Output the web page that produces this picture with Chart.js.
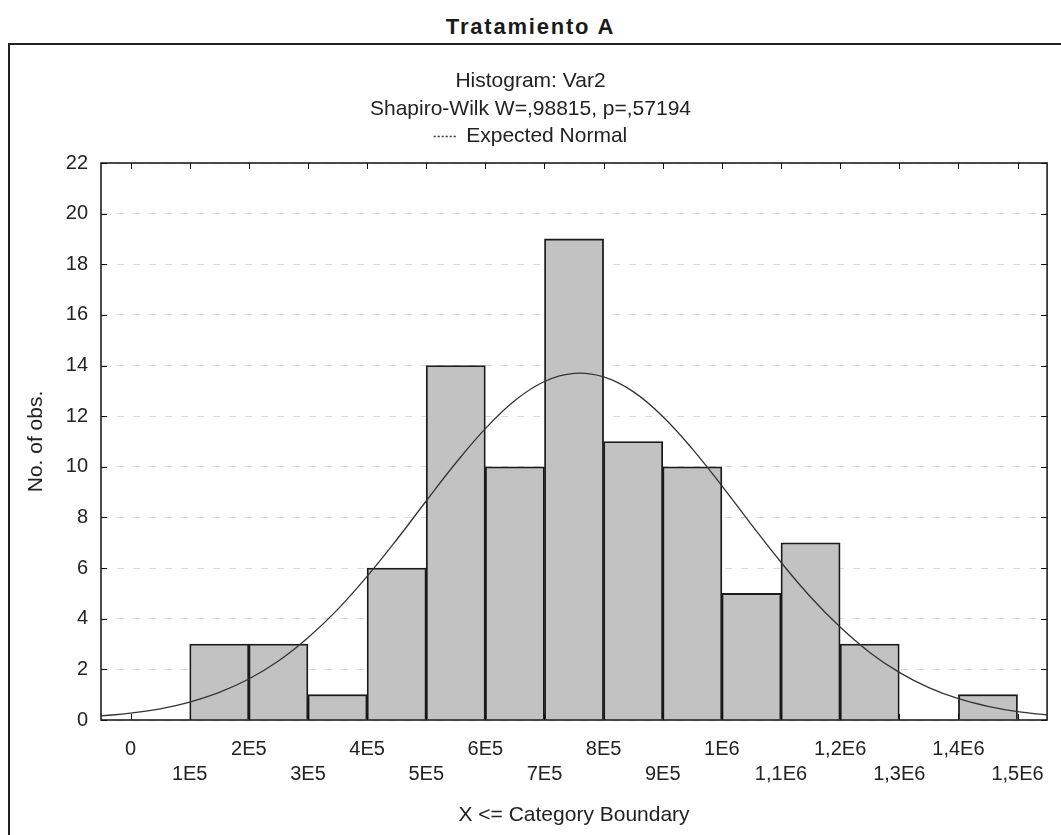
<!DOCTYPE html>
<html>
<head>
<meta charset="utf-8">
<script src="https://cdn.jsdelivr.net/npm/chart.js@4.4.1/dist/chart.umd.min.js"></script>
<style>
    body { margin: 0; background: #fff; }
    .wrap { position: relative; width: 1061px; height: 835px; overflow: hidden; }
    .heading {
        position: absolute; left: 0; width: 1061px; top: 14px; line-height: 24px;
        text-align: center; font: bold 22px "Liberation Sans", Arial, sans-serif;
        letter-spacing: 1.8px; color: #1a1a1a;
    }
    .frame {
        position: absolute; left: 8px; top: 43px; width: 1100px; height: 900px;
        border-left: 2px solid #222; border-top: 2px solid #222;
    }
    canvas { position: absolute; left: 0; top: 0; }
</style>
</head>
<body>
<div class="wrap">
    <div class="heading">Tratamiento A</div>
    <div class="frame"></div>
    <canvas id="myChart" width="1061" height="835"></canvas>
</div>
<script>
// data
const binUpper = [200000, 300000, 400000, 500000, 600000, 700000, 800000,
                  900000, 1000000, 1100000, 1200000, 1300000, 1400000, 1500000];
const counts = [3, 3, 1, 6, 14, 10, 19, 11, 10, 5, 7, 3, 0, 1];
const BIN_WIDTH = 100000;

// expected normal curve
const curveX = [-50000, 0, 50000, 100000, 150000, 200000, 250000, 300000, 350000, 400000,
                450000, 500000, 550000, 600000, 650000, 700000, 750000, 800000, 850000,
                900000, 950000, 1000000, 1050000, 1100000, 1150000, 1200000, 1250000,
                1300000, 1350000, 1400000, 1450000, 1500000, 1550000];
const curveY = [0.16, 0.27, 0.44, 0.71, 1.09, 1.62, 2.33, 3.25, 4.36, 5.67,
                7.12, 8.65, 10.15, 11.51, 12.62, 13.37, 13.69, 13.55, 12.97,
                11.99, 10.71, 9.25, 7.72, 6.23, 4.86, 3.67, 2.67,
                1.88, 1.28, 0.84, 0.54, 0.33, 0.20];

const xTickValues = [0, 100000, 200000, 300000, 400000, 500000, 600000, 700000,
                     800000, 900000, 1000000, 1100000, 1200000, 1300000, 1400000, 1500000];
const xTickLabels = ['0', '1E5', '2E5', '3E5', '4E5', '5E5', '6E5', '7E5',
                     '8E5', '9E5', '1E6', '1,1E6', '1,2E6', '1,3E6', '1,4E6', '1,5E6'];

const FONT = 'Liberation Sans, Arial, sans-serif';
const TEXT = '#222';

// frame around plot area + inward tick marks on all four sides
const plotFrame = {
    id: 'plotFrame',
    afterDraw(chart) {
        const { ctx, chartArea: a, scales } = chart;
        ctx.save();
        ctx.strokeStyle = '#111';
        ctx.lineWidth = 1.5;
        ctx.strokeRect(a.left, a.top, a.right - a.left, a.bottom - a.top);
        ctx.lineWidth = 1;
        ctx.beginPath();
        xTickValues.forEach(v => {
            const px = Math.round(scales.x.getPixelForValue(v)) + 0.5;
            ctx.moveTo(px, a.bottom); ctx.lineTo(px, a.bottom - 6);
            ctx.moveTo(px, a.top); ctx.lineTo(px, a.top + 6);
        });
        scales.y.ticks.forEach(t => {
            const py = Math.round(scales.y.getPixelForValue(t.value)) + 0.5;
            ctx.moveTo(a.left, py); ctx.lineTo(a.left + 6, py);
            ctx.moveTo(a.right, py); ctx.lineTo(a.right - 6, py);
        });
        ctx.stroke();
        ctx.restore();
    }
};

const ctx = document.getElementById('myChart');

let myChart = new Chart(ctx, {
    type: 'bar',
    data: {
        datasets: [{
            type: 'line',
            label: 'Expected Normal',
            data: curveX.map((x, i) => ({ x: x, y: curveY[i] })),
            borderColor: '#333',
            borderWidth: 1.3,
            pointRadius: 0,
            tension: 0.4,
            order: 0
        },
        {
            label: 'Var2',
            data: binUpper.map((u, i) => ({ x: u - BIN_WIDTH / 2, y: counts[i] })),
            backgroundColor: '#c2c2c2',
            borderColor: '#1a1a1a',
            borderWidth: 1.8,
            barPercentage: 1,
            categoryPercentage: 1,
            order: 1
        }]
    },
    options: {
        responsive: false,
        animation: false,
        layout: {
            padding: { left: 11, right: 11, top: 67, bottom: 0 }
        },
        plugins: {
            title: {
                display: true,
                text: ['Histogram: Var2', 'Shapiro-Wilk W=,98815, p=,57194'],
                color: TEXT,
                font: { family: FONT, size: 21, weight: 'normal', lineHeight: 28 / 21 },
                padding: { top: 0, bottom: 0 }
            },
            legend: {
                display: true,
                labels: {
                    filter: item => item.datasetIndex === 0,
                    generateLabels: chart => {
                        const items = Chart.defaults.plugins.legend.labels.generateLabels(chart);
                        items.forEach(it => { it.lineDash = [2, 2]; it.lineWidth = 1.5; });
                        return items;
                    },
                    usePointStyle: true,
                    pointStyle: 'line',
                    pointStyleWidth: 22,
                    color: TEXT,
                    font: { family: FONT, size: 21 },
                    padding: 3
                }
            },
            // empty spacer between legend and plot
            subtitle: {
                display: true,
                text: '',
                weight: 500,
                font: { size: 1, lineHeight: 1 },
                padding: { top: 0, bottom: 5 }
            },
            tooltip: { enabled: false }
        },
        scales: {
            x: {
                type: 'linear',
                offset: false,
                min: -50000,
                max: 1550000,
                afterBuildTicks: scale => {
                    scale.ticks = xTickValues.map(v => ({ value: v }));
                },
                afterFit: scale => { scale.height = 115; },
                grid: { display: false, drawTicks: false },
                border: { display: false },
                ticks: {
                    autoSkip: false,
                    maxRotation: 0,
                    padding: 17,
                    color: TEXT,
                    font: { family: FONT, size: 20, lineHeight: 1.25 },
                    callback: function (value) {
                        const i = xTickValues.indexOf(value);
                        if (i < 0) return '';
                        return i % 2 === 0 ? [xTickLabels[i], ''] : ['', xTickLabels[i]];
                    }
                },
                title: {
                    display: true,
                    text: 'X <= Category Boundary',
                    color: TEXT,
                    font: { family: FONT, size: 21 },
                    padding: { top: 0, bottom: 7 }
                }
            },
            y: {
                min: 0,
                max: 22,
                afterFit: scale => { scale.width = 90; },
                grid: {
                    color: '#dadada',
                    drawTicks: false
                },
                border: { display: false, dash: [7, 9] },
                ticks: {
                    stepSize: 2,
                    padding: 13,
                    color: TEXT,
                    font: { family: FONT, size: 20 }
                },
                title: {
                    display: true,
                    text: 'No. of obs.',
                    color: TEXT,
                    font: { family: FONT, size: 21 },
                    padding: { top: 13, bottom: 0 }
                }
            }
        }
    },
    plugins: [plotFrame]
});
</script>
</body>
</html>
